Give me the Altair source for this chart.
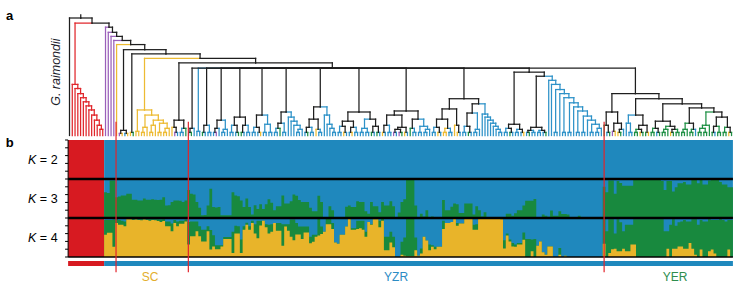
import altair as alt
import pandas as pd

# ---------------- data ----------------
N_RED = 13  # samples 0..12 are G. raimondii (red in every K)

K3_GREEN = [
    .66, .64, .96, .96, .53, .55, .58, .58, .62, .62,
    .47, .47, .45, .45, .50, .47, .47, .48, .47, .46,
    .47, .53, .32, .33, .41, .45, .45, .44, .41, .45,
    .72, .62, .60, .41, .26, .07, .08, .32, .75, .28,
    .27, .28, .07, .07, .07, .07, .66, .58, .56, .45,
    .28, .50, .28, .09, .33, .23, .35, .23, .35, .48,
    .39, .20, .30, .30, .58, .37, .37, .43, .60, .57,
    .46, .41, .41, .41, .26, .17, .17, .57, .41, 0,
    0, .30, .20, 0, 0, 0, 0, .29, .32, .28,
    .28, .43, .41, .41, .17, .11, .41, .30, .30, .15,
    .41, .32, .32, .43, .30, 0, .14, .41, .48, 1,
    1, 1, .32, 0, .11, .04, .20, 0, .04, .02,
    .02, .02, .46, .20, .20, .29, .37, .35, .13, .13,
    .37, .37, .37, .09, .30, .20, .04, .15, 0, 0,
    0, 0, 0, 0, 0, .11, .11, .06, .12, .20,
    .20, .32, .44, .44, .44, .49, 0, 0, .09, .06,
    .03, .19, .06, .06, .17, .10, .10, .09, 0, 0,
    0, .06, 0, 0, 0, 0, 0, 0, 0, 0,
    .80, .66, .96, .96, .62, .95, .90, .83, .83, .83,
    .83, 1, 1, 1, 1, 1, 1, 1, 1, 1,
    1, .95, .72, .95, .95, .68, .79, .89, .89, .92,
    .86, .86, .98, .98, .89, .98, .86, .86, .96, .98,
    .98, .98, .92, .86, .86, .79, .79,
]

K4_YELLOW = [
    .57, .62, .62, .26, .87, .83, .83, .79, .97, .97,
    .95, .96, .95, .94, .96, .95, .93, .95, .94, .92,
    .90, .92, .79, .79, .66, .87, .79, .85, .85, .91,
    .32, .53, .53, .66, .53, .40, .40, .66, .19, .27,
    .20, .20, .27, .46, .46, .46, .10, .60, .60, .10,
    .70, .83, .70, .87, .60, .48, .81, .93, .76, .60,
    .65, .87, .67, .67, .29, .78, .67, .52, .43, .58,
    .58, .46, .63, .63, .35, .39, .52, .55, .59, .65,
    .84, .84, .72, .37, .34, .57, .57, .78, .98, .70,
    .70, .72, .74, .70, .52, .90, .83, .97, .97, .76,
    .93, .17, .17, .37, .25, 0, 0, .06, .03, .02,
    .02, .02, .17, .03, .09, .52, .42, .17, .26, .20,
    .26, .26, .72, .87, .87, .90, .98, .80, .86, .86,
    .98, .98, .98, .70, .70, .98, .98, .98, .98, .98,
    .98, .98, .98, .97, .22, .55, .40, .27, .26, .32,
    .32, .44, 0, 0, .15, 0, .29, .40, .12, .06,
    .27, .27, 0, 0, .06, 0, .03, 0, 0, 0,
    0, 0, 0, 0, 0, 0, 0, 0, 0, 0,
    .34, 0, .10, .20, .21, .15, .15, .21, .15, .15,
    .32, .32, 0, 0, 0, 0, 0, 0, 0, 0,
    0, 0, 0, .21, 0, .21, .21, .27, .27, .21,
    .21, .36, .21, .06, 0, .19, 0, 0, .15, .19,
    .09, 0, 0, 0, 0, .19, 0,
]

K4_GREEN = [
    .38, .33, .33, .70, .10, .12, .10, .12, 0, .01,
    .02, .01, .02, .03, .01, .02, .04, .02, .03, .05,
    .06, .05, .12, .12, .20, .08, .12, .08, .08, .05,
    .58, .38, .38, .25, .26, .30, .30, .13, .50, .29,
    .10, .10, .03, .05, .05, .05, .55, .20, .19, .35,
    .09, .05, .09, .06, .24, .45, .12, 0, .08, .23,
    .19, 0, .20, .20, .55, .06, .17, .44, .53, .29,
    .20, .32, .15, .15, .17, .18, .05, .43, .19, 0,
    .14, .14, .15, 0, 0, 0, 0, 0, 0, .04,
    .04, .21, .19, .23, .13, 0, .01, 0, 0, .17,
    .05, .35, .35, .28, .27, 0, 0, .33, .47, .98,
    .98, .98, .33, 0, .13, 0, 0, .15, .04, .06,
    0, 0, .21, 0, 0, 0, 0, .07, 0, 0,
    0, 0, 0, .13, .14, 0, 0, 0, 0, 0,
    0, 0, 0, 0, .21, .05, .05, .09, .06, .04,
    .04, .19, .46, .46, .30, .46, 0, 0, 0, 0,
    0, 0, 0, 0, .17, 0, 0, 0, 0, 0,
    0, 0, 0, 0, 0, 0, 0, 0, 0, 0,
    .63, .66, .87, .77, .39, .82, .74, .45, .68, .68,
    .51, .65, .97, .97, .97, .97, .97, .97, .97, .97,
    .97, .97, .66, .45, .83, .76, .59, .62, .64, .74,
    .70, .55, .76, .91, .83, .76, .91, .91, .82, .76,
    .86, .95, .97, .95, .91, .76, .95,
]

# dendrogram clades: leaf letters are colour codes, "(...):h" internal node at height h
RED_CLADE = "(r,(r,(r,(r,(r,(r,(r,(r,(r,(r,(r,r):6):10):15):20):25):29):33):37):41):46):50"
GL_CLADE = "((p,y):2,(b,y):2):5"
HL_CLADE = "(y,g):3"
SC_CLADE = "((y,y):4,(((y,y):3,y):8,(((y,y):3,y):10,((y,y):3,((y,y):3,y):7):12):15):20):25"
SC_LATE = "((y,(p,b):3):8,((b,b):3,g):7):15"

L11 = "((((b,b):3,(y,b):3):8,((y,y):3,(b,b):3):7):16,(y,(y,b):3):10):26"
R11 = "((((b,b):3,(g,b):3):9,((b,b):3,b):6):22,(b,(b,(b,(b,(b,(b,(b,b):3):6):9):12):15):18):21):31"
S1 = "(((b,b):3,(g,b):3):7,((b,b):3,(b,y):3):6):11"
X12 = "(((b,g):3,(b,b):3):5,((b,b):3,(b,g):3):5):8"
BL12 = ("(b,(b,((b,b):3,(b,((b,b):3,((b,b):3,(b,((b,b):3,((b,b):3,(b,((b,b):3,"
        "((b,b):3,b):7):11):15):19):24):28):32):37):41):45):50):54")
T1 = "((g,(b,g):3):10,((p,y):4,((y,g):3,b):6):12):23"
T2L = "((b,(b,b):3):12,(((g,g):3,(y,g):3):6,(g,y):3):10):20"
A1 = "(((g,g):3,(b,g):3):7,(((g,g):3,g):6,((y,g):3,(g,g):3):6):9):14"
A2 = "(((g,g):3,g):6,((g,g):3,b):6):12"
A3 = "(((g,g):3,(g,g):3):7,g):10"
T2R4 = "(((g,b):3,(g,g):3):9,((g,g):3,(y,g):3):8):18"

COMB = [
    "((b,g):3,b):7",
    "(b,b):4",
    "((g,b):3,(b,b):3):10",
    "(((b,p):3,b):7,((b,b):3,b):6):15",
    "(((b,b):3,(b,g):3):10,((g,b):3,(b,b):3):10):18",
    "(((b,b):3,(b,y):3):8,((b,b):3,(b,b):3):11):20",
    "((((b,b):3,g):7,(b,b):3):12,(b,(b,(b,((b,b):3,b):6):10):14):18):23",
    "((((b,g):3,(b,b):3):8,(y,(b,b):3):6):16,(b,(b,(b,(b,b):3):7):11):20):28",
    "((((b,b):3,(y,b):3):9,((b,y):3,(b,b):3):8):14,(((b,b):3,(b,b):3):7,((g,b):3,(g,b):3):9):16):23",
    "((((y,b):3,(b,b):3):10,(((p,b):3,(p,g):3):6,(y,b):3):8):20,((g,(b,b):3):7,((b,b):3,((b,b):3,b):6):9):16):24",
    "(" + L11 + "," + R11 + "):36",
    "(" + S1 + ",(" + X12 + "," + BL12 + "):58):62",
    "(" + T1 + ",(" + T2L + ",(" + A1 + ",(" + A2 + ",(" + A3 + "," + T2R4 + "):23):27):31):36):41",
]
COMB_HEIGHT = 66
# backbone from the root downward: (sister clade, node height)
BACKBONE = [("k", 115), (RED_CLADE, 110), ("p", 106), ("p", 101), ("p", 97), ("p", 93),
            ("y", 89), (GL_CLADE, 84), (HL_CLADE, 80), (SC_CLADE, 75.5), (SC_LATE, 71)]

SEPARATORS = [16.8, 42.9, 193.0]
GROUPS = [("SC", 29.1, "#E3AE2C"), ("YZR", 117.9, "#2C8CC4"), ("YER", 218.6, "#2E8D4E")]
K_LABELS = [("= 2", 2.5), ("= 3", 1.5), ("= 4", 0.5)]
TICKS = [round(0.2 * k, 2) for k in range(16)]

STRUCT = {"r": "#D71A21", "b": "#1F88BD", "g": "#18893E", "y": "#E8B42A"}
TREE = {"r": "#E0262B", "b": "#2E92C8", "g": "#1F9045", "y": "#EDBB33", "p": "#9A5FBA", "k": "#1E1E1E"}

# ---------------- tree layout ----------------
tree_str = "(" + ",".join(COMB) + "):" + str(COMB_HEIGHT)
for sister, h in reversed(BACKBONE):
    tree_str = "(" + sister + "," + tree_str + "):" + str(h)

leaves = []
pos = [0]


def node(s):
    if s[pos[0]] == "(":
        pos[0] += 1
        kids = [node(s)]
        while s[pos[0]] == ",":
            pos[0] += 1
            kids.append(node(s))
        pos[0] += 2  # ")" and ":"
        j = pos[0]
        while pos[0] < len(s) and (s[pos[0]].isdigit() or s[pos[0]] == "."):
            pos[0] += 1
        h = float(s[j:pos[0]])
        x = sum(k["x"] for k in kids) / len(kids)
        cols = set(k["c"] for k in kids)
        c = cols.pop() if len(cols) == 1 else "k"
        return {"kids": kids, "h": h, "x": x, "c": c}
    c = s[pos[0]]
    pos[0] += 1
    n = {"kids": [], "h": 0.0, "x": float(len(leaves)), "c": c}
    leaves.append(c)
    return n


root = node(tree_str.replace(" ", ""))
segs = []


def walk(n):
    for k in n["kids"]:
        segs.append(dict(x=k["x"], x2=k["x"], y=k["h"], y2=n["h"], c=k["c"]))
        segs.append(dict(x=k["x"], x2=n["x"], y=n["h"], y2=n["h"], c=k["c"]))
        walk(k)


walk(root)
segs.append(dict(x=root["x"], x2=root["x"], y=root["h"], y2=root["h"] + 3, c="k"))
seg_df = pd.DataFrame(segs)
seg_df["order"] = (seg_df["c"] == "k").astype(int)
seg_df = seg_df.sort_values("order", kind="stable")
seg_df["col"] = seg_df["c"].map(TREE)

# ---------------- structure bars ----------------
N = N_RED + len(K3_GREEN)
back = []
for base in (2, 1, 0):
    back.append((-.5, N_RED - .5, base, base + 1, STRUCT["r"]))
    back.append((N_RED - .5, N - .5, base, base + 1, STRUCT["b"]))
bar_df = pd.DataFrame(back, columns=["x0", "x1", "v0", "v1", "col"])


def step_frame(values, base):
    xs = [N_RED - .5] + list(range(N_RED, N)) + [N - .5]
    vals = [values[0]] + list(values) + [values[-1]]
    return pd.DataFrame(dict(x=xs, v0=base, v1=[base + v for v in vals]))


k3_green_df = step_frame(K3_GREEN, 1)
k4_green_df = step_frame([min(1, a + b) for a, b in zip(K4_YELLOW, K4_GREEN)], 0)
k4_yellow_df = step_frame(K4_YELLOW, 0)

group_bar = pd.DataFrame([
    dict(x0=-.5, x1=N_RED - .5, v0=-0.10, v1=-0.23, col=STRUCT["r"]),
    dict(x0=N_RED - .5, x1=N - .5, v0=-0.10, v1=-0.23, col=STRUCT["b"]),
])

# ---------------- scales ----------------
XS = alt.Scale(domain=[-25.09, 247.83], range=[0, 756], nice=False, zero=False)
HS = alt.Scale(domain=[0, 115], range=[135.5, 18], nice=False, zero=False)
VS = alt.Scale(domain=[0, 3], range=[257, 140], nice=False, zero=False)

FONT = "Liberation Sans"

tree_layer = alt.Chart(seg_df).mark_rule(strokeWidth=1.25, strokeCap="square").encode(
    x=alt.X("x:Q", scale=XS, axis=None), x2="x2:Q",
    y=alt.Y("y:Q", scale=HS, axis=None), y2="y2:Q",
    color=alt.Color("col:N", scale=None),
)

bars = alt.Chart(bar_df).mark_rect().encode(
    x=alt.X("x0:Q", scale=XS, axis=None), x2="x1:Q",
    y=alt.Y("v0:Q", scale=VS, axis=None), y2="v1:Q",
    color=alt.Color("col:N", scale=None),
)


def step_area(df, colour):
    return alt.Chart(df).mark_area(interpolate="step", color=colour).encode(
        x=alt.X("x:Q", scale=XS, axis=None),
        y=alt.Y("v1:Q", scale=VS, axis=None, stack=None), y2="v0:Q",
    )


k3g = step_area(k3_green_df, STRUCT["g"])
k4g = step_area(k4_green_df, STRUCT["g"])
k4y = step_area(k4_yellow_df, STRUCT["y"])

gbar = alt.Chart(group_bar).mark_rect().encode(
    x=alt.X("x0:Q", scale=XS, axis=None), x2="x1:Q",
    y=alt.Y("v0:Q", scale=VS, axis=None), y2="v1:Q",
    color=alt.Color("col:N", scale=None),
)

lines_df = pd.DataFrame([dict(x0=-.5, x1=N - .5, v=1.0, w=2.4), dict(x0=-.5, x1=N - .5, v=2.0, w=2.4),
                         dict(x0=-.5, x1=N - .5, v=0.0, w=1.4)])
hlines = alt.Chart(lines_df).mark_rule(color="black").encode(
    x=alt.X("x0:Q", scale=XS, axis=None), x2="x1:Q",
    y=alt.Y("v:Q", scale=VS, axis=None),
    strokeWidth=alt.StrokeWidth("w:Q", scale=None),
)

axis_df = pd.DataFrame([dict(x=-.5, v0=0.0, v1=3.0)])
axis_line = alt.Chart(axis_df).mark_rule(color="black", strokeWidth=1).encode(
    x=alt.X("x:Q", scale=XS, axis=None),
    y=alt.Y("v0:Q", scale=VS, axis=None), y2="v1:Q",
)
tick_df = pd.DataFrame(dict(v=TICKS, x0=-1.6, x1=-0.5))
ticks = alt.Chart(tick_df).mark_rule(color="black", strokeWidth=1).encode(
    x=alt.X("x0:Q", scale=XS, axis=None), x2="x1:Q",
    y=alt.Y("v:Q", scale=VS, axis=None),
)

sep_df = pd.DataFrame(dict(x=SEPARATORS, v0=-0.39, v1=3.47))
seps = alt.Chart(sep_df).mark_rule(color="#E3242B", strokeWidth=1.2).encode(
    x=alt.X("x:Q", scale=XS, axis=None),
    y=alt.Y("v0:Q", scale=VS, axis=None), y2="v1:Q",
)

grp_df = pd.DataFrame(GROUPS, columns=["t", "x", "col"])
grp_df["v"] = -0.5
grp_text = alt.Chart(grp_df).mark_text(font=FONT, fontSize=12, baseline="middle", align="center").encode(
    x=alt.X("x:Q", scale=XS, axis=None),
    y=alt.Y("v:Q", scale=VS, axis=None),
    text="t:N", color=alt.Color("col:N", scale=None),
)

k_df = pd.DataFrame(K_LABELS, columns=["t", "v"])
k_df["x"] = -4.3
k_df["xk"] = -12.0
k_num = alt.Chart(k_df).mark_text(font=FONT, fontSize=12.5, baseline="middle", align="right", color="black").encode(
    x=alt.X("x:Q", scale=XS, axis=None),
    y=alt.Y("v:Q", scale=VS, axis=None),
    text="t:N",
)
k_k = alt.Chart(k_df).mark_text(font=FONT, fontSize=12.5, fontStyle="italic", baseline="middle",
                                align="right", color="black").encode(
    x=alt.X("xk:Q", scale=XS, axis=None),
    y=alt.Y("v:Q", scale=VS, axis=None),
    text=alt.value("K"),
)

b_df = pd.DataFrame([dict(t="b", x=-21.6, v=2.92)])
b_text = alt.Chart(b_df).mark_text(font=FONT, fontSize=13, fontWeight="bold", baseline="middle",
                                   align="center", color="black").encode(
    x=alt.X("x:Q", scale=XS, axis=None),
    y=alt.Y("v:Q", scale=VS, axis=None),
    text="t:N",
)
a_df = pd.DataFrame([dict(t="a", x=-21.6, h=116.5)])
a_text = alt.Chart(a_df).mark_text(font=FONT, fontSize=13, fontWeight="bold", baseline="middle",
                                   align="center", color="black").encode(
    x=alt.X("x:Q", scale=XS, axis=None),
    y=alt.Y("h:Q", scale=HS, axis=None),
    text="t:N",
)
g_df = pd.DataFrame([dict(t="G. raimondii", x=-4.9, h=62)])
g_text = alt.Chart(g_df).mark_text(font=FONT, fontSize=12.5, fontStyle="italic", angle=270,
                                   baseline="middle", align="center", color="#1c1c2a").encode(
    x=alt.X("x:Q", scale=XS, axis=None),
    y=alt.Y("h:Q", scale=HS, axis=None),
    text="t:N",
)

chart = alt.layer(
    bars, k3g, k4g, k4y, gbar, hlines, axis_line, ticks, tree_layer, seps,
    grp_text, k_num, k_k, b_text, a_text, g_text,
).resolve_scale(y="independent").properties(
    width=756, height=294, padding=0,
    autosize=alt.AutoSizeParams(type="none"),
    background="white",
).configure_view(strokeWidth=0)

chart.save("out.html", embed_options={"renderer": "svg", "actions": False})
